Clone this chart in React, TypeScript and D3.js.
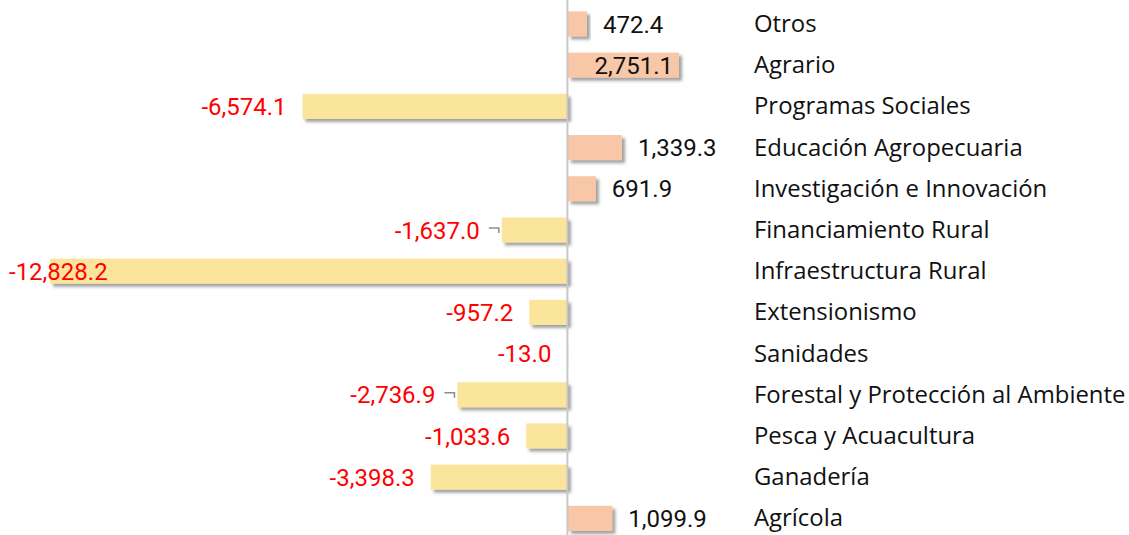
import React, { useEffect, useRef } from 'react';
import * as d3 from 'd3';

const categories = [
  'Otros',
  'Agrario',
  'Programas Sociales',
  'Educación Agropecuaria',
  'Investigación e Innovación',
  'Financiamiento Rural',
  'Infraestructura Rural',
  'Extensionismo',
  'Sanidades',
  'Forestal y Protección al Ambiente',
  'Pesca y Acuacultura',
  'Ganadería',
  'Agrícola',
];
const values = [
  472.4, 2751.1, -6574.1, 1339.3, 691.9, -1637.0, -12828.2, -957.2, -13.0, -2736.9, -1033.6, -3398.3, 1099.9,
];
// categories whose labels were pulled away from the bar with a leader line
const leaderCats = ['Financiamiento Rural', 'Forestal y Protección al Ambiente'];

const W = 1129;
const H = 535;

export default function App() {
  const ref = useRef<SVGSVGElement>(null);

  useEffect(() => {
    const svg = d3.select(ref.current);
    svg.selectAll('*').remove();

    const defs = svg.append('defs');
    const f = defs.append('filter').attr('id', 'shadow')
      .attr('x', '-10%').attr('y', '-20%').attr('width', '130%').attr('height', '160%');
    f.append('feDropShadow')
      .attr('dx', 3).attr('dy', 3).attr('stdDeviation', 1.8)
      .attr('flood-color', '#555').attr('flood-opacity', 0.55);

    const x = d3.scaleLinear().domain([-12828.2, 2751.1]).range([50, 679]);
    const y = d3.scaleBand().domain(categories).range([3.4, 539]).paddingInner(0.39).paddingOuter(0.195);

    const data = categories.map((c, i) => ({ cat: c, v: values[i] }));

    // bars
    svg.append('g').selectAll('rect').data(data).enter().append('rect')
      .attr('x', d => x(Math.min(0, d.v)))
      .attr('y', d => y(d.cat)!)
      .attr('width', d => Math.abs(x(d.v) - x(0)))
      .attr('height', y.bandwidth())
      .attr('fill', d => d.v >= 0 ? '#F7C7A7' : '#FBE49B')
      .attr('filter', 'url(#shadow)');

    // zero line
    svg.append('line')
      .attr('x1', x(0) - 0.5).attr('x2', x(0) - 0.5)
      .attr('y1', 0).attr('y2', H)
      .attr('stroke', '#C8C8C8').attr('stroke-width', 2);

    const fmt = d3.formatLocale({ decimal: '.', thousands: ',', grouping: [3], currency: ['$', ''], minus: '-' }).format(',.1f');
    const labels = svg.append('g')
      .style('font-family', 'Roboto, "Noto Sans", sans-serif')
      .style('font-size', '24px');

    data.forEach(d => {
      const cy = y(d.cat)! + y.bandwidth() / 2;
      const t = labels.append('text').attr('y', cy + 8.5).text(fmt(d.v));
      if (d.v >= 0) {
        t.attr('fill', '#111');
        if (x(d.v) + 90 > 750) {
          t.attr('x', x(d.v) - 6).attr('text-anchor', 'end');
        } else {
          t.attr('x', x(d.v) + 16);
        }
      } else {
        t.attr('fill', '#FF0000');
        let lx = x(d.v) - 16;
        if (leaderCats.includes(d.cat)) {
          lx = x(d.v) - 22;
          svg.append('path')
            .attr('d', `M${lx + 9},${cy - 2} H${lx + 19} V${cy + 3}`)
            .attr('fill', 'none').attr('stroke', '#8C8C8C').attr('stroke-width', 1.5);
        }
        if (lx < 90) {
          t.attr('x', 9);
        } else {
          t.attr('x', lx).attr('text-anchor', 'end');
        }
      }
    });

    // category names
    svg.append('g')
      .style('font-family', '"Open Sans", Lato, sans-serif')
      .style('font-size', '23.9px')
      .selectAll('text').data(categories).enter().append('text')
      .attr('x', 754)
      .attr('y', c => y(c)! + y.bandwidth() / 2 + 8)
      .attr('fill', '#111')
      .text(c => c);
  }, []);

  return (
    <svg ref={ref} width={W} height={H}
      style={{ position: 'absolute', left: 0, top: 0, background: '#fff' }} />
  );
}
